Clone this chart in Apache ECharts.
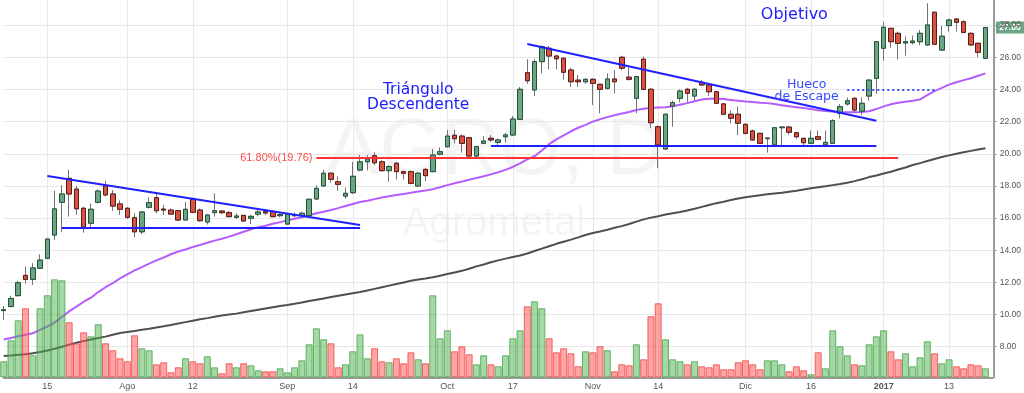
<!DOCTYPE html>
<html><head><meta charset="utf-8">
<script src="https://cdn.jsdelivr.net/npm/echarts@6/dist/echarts.min.js"></script>
<style>html,body{margin:0;padding:0;background:#fff}#c{width:1024px;height:393px}</style>
</head><body><div id="c"></div><script>
// ---------- data ----------
const dates = ['2016-07-06','2016-07-07','2016-07-11','2016-07-12','2016-07-13','2016-07-14','2016-07-15','2016-07-18','2016-07-19','2016-07-20',
'2016-07-21','2016-07-22','2016-07-25','2016-07-26','2016-07-27','2016-07-28','2016-07-29','2016-08-01','2016-08-02','2016-08-03',
'2016-08-04','2016-08-05','2016-08-08','2016-08-09','2016-08-10','2016-08-11','2016-08-12','2016-08-16','2016-08-17','2016-08-18',
'2016-08-19','2016-08-22','2016-08-23','2016-08-24','2016-08-25','2016-08-26','2016-08-29','2016-08-30','2016-08-31','2016-09-01',
'2016-09-02','2016-09-05','2016-09-06','2016-09-07','2016-09-08','2016-09-09','2016-09-12','2016-09-13','2016-09-14','2016-09-15',
'2016-09-16','2016-09-19','2016-09-20','2016-09-21','2016-09-22','2016-09-23','2016-09-26','2016-09-27','2016-09-28','2016-09-29',
'2016-09-30','2016-10-03','2016-10-04','2016-10-05','2016-10-06','2016-10-07','2016-10-11','2016-10-12','2016-10-13','2016-10-14',
'2016-10-17','2016-10-18','2016-10-19','2016-10-20','2016-10-21','2016-10-24','2016-10-25','2016-10-26','2016-10-27','2016-10-28',
'2016-10-31','2016-11-01','2016-11-02','2016-11-03','2016-11-04','2016-11-07','2016-11-08','2016-11-09','2016-11-10','2016-11-11',
'2016-11-14','2016-11-15','2016-11-16','2016-11-17','2016-11-18','2016-11-21','2016-11-22','2016-11-23','2016-11-24','2016-11-25',
'2016-11-29','2016-11-30','2016-12-01','2016-12-02','2016-12-05','2016-12-06','2016-12-07','2016-12-12','2016-12-13','2016-12-14',
'2016-12-15','2016-12-16','2016-12-19','2016-12-20','2016-12-21','2016-12-22','2016-12-23','2016-12-26','2016-12-27','2016-12-28',
'2016-12-29','2017-01-02','2017-01-03','2017-01-04','2017-01-05','2017-01-06','2017-01-09','2017-01-10','2017-01-11','2017-01-12',
'2017-01-13','2017-01-16','2017-01-17','2017-01-18','2017-01-19','2017-01-20'];

const opens = [10.25,10.50,11.18,12.44,12.19,12.88,13.50,14.95,16.98,18.47,
17.80,16.61,15.68,16.98,18.00,17.50,16.88,16.61,16.03,15.15,
16.67,17.27,16.56,16.50,16.46,15.88,17.17,16.50,15.76,16.34,
16.44,16.34,16.05,16.17,15.99,16.25,16.42,16.40,16.15,15.63,
16.15,16.15,16.15,17.19,18.00,18.79,18.26,17.37,17.58,18.99,
19.50,19.88,19.50,18.95,19.41,18.89,18.89,18.00,19.03,18.89,
19.97,20.44,21.15,21.10,21.00,19.86,20.65,20.96,20.71,21.06,
21.17,22.14,25.04,23.97,25.73,26.56,26.08,25.94,25.21,24.58,
24.48,24.63,24.32,24.07,24.65,26.00,24.76,23.45,25.88,24.01,
21.68,20.30,22.97,23.45,24.01,23.59,24.44,24.28,23.86,23.10,
22.46,22.46,21.83,21.42,21.27,20.94,20.55,21.62,21.66,21.31,
20.96,20.65,21.06,20.55,20.65,22.52,23.10,23.45,22.65,23.59,
24.69,26.56,27.80,27.49,26.89,26.91,26.97,26.77,28.80,26.45,
27.97,28.38,28.21,27.49,26.87,25.94];
const closes = [10.30,11.00,11.98,12.19,12.90,13.39,14.70,16.57,17.50,17.50,
16.58,15.43,16.55,17.68,17.44,16.75,16.55,16.05,15.15,16.38,
16.96,16.46,16.50,16.25,15.88,16.55,16.36,15.84,16.19,16.46,
16.34,16.09,16.13,15.82,16.11,16.38,16.32,16.09,16.22,16.25,
16.20,16.30,17.17,17.85,18.79,18.41,18.10,17.54,18.60,19.50,
19.68,19.44,18.95,19.20,18.89,18.79,18.16,18.79,18.64,19.92,
20.13,21.10,20.94,20.65,19.86,20.44,20.79,20.86,20.86,21.17,
22.16,24.01,24.54,25.73,26.66,26.08,25.91,25.07,24.48,24.48,
24.63,24.38,24.01,24.65,24.48,25.32,24.63,24.80,24.01,21.93,
20.55,22.46,23.18,23.90,23.76,24.01,24.28,23.86,23.14,22.46,
22.21,21.90,21.27,20.86,20.65,20.98,21.62,21.66,21.34,21.06,
20.69,20.96,20.90,20.71,22.06,22.93,23.30,22.72,23.14,24.58,
26.97,27.87,26.97,26.87,26.97,27.01,27.49,28.01,26.81,27.31,
28.32,28.18,27.55,26.77,26.31,27.85];
const lows = [9.66,10.45,11.10,11.94,11.84,12.85,13.45,14.64,15.15,16.09,
16.20,15.09,15.43,16.90,17.35,16.45,16.20,15.95,14.80,15.00,
16.60,16.30,16.20,16.20,15.84,15.85,16.30,15.78,15.60,16.10,
16.25,16.05,15.95,15.78,15.63,16.10,16.20,16.05,16.05,15.60,
16.05,16.10,16.10,17.15,17.95,18.20,17.70,17.20,17.50,18.90,
18.97,19.30,18.90,18.26,18.40,18.40,18.10,17.95,18.30,18.85,
19.90,20.40,20.65,20.07,19.80,19.80,20.60,20.75,20.50,20.70,
21.10,22.10,24.35,23.59,25.00,25.25,25.25,24.60,24.15,24.15,
24.35,23.03,22.52,24.00,23.75,25.20,24.55,22.52,23.95,21.58,
19.10,20.25,21.68,23.20,23.20,23.30,24.20,23.60,23.10,22.40,
21.90,21.17,21.20,20.80,20.60,20.07,20.50,20.55,21.20,20.95,
20.45,20.60,20.85,20.50,20.60,22.20,23.00,22.55,22.40,23.30,
23.72,25.79,26.60,25.88,26.10,26.80,26.75,26.70,26.75,26.40,
27.60,27.60,27.50,26.70,26.00,25.90];
const highs = [10.53,11.18,12.09,13.00,13.20,13.75,14.75,17.70,18.05,19.00,
18.00,16.70,16.90,17.80,18.31,17.75,17.10,16.70,16.30,16.45,
17.29,17.54,16.82,16.60,16.50,17.00,17.27,16.60,16.25,17.54,
16.50,16.45,16.30,16.20,16.20,16.50,16.55,16.50,16.30,16.30,
16.35,16.40,17.20,18.05,18.99,18.85,18.60,17.90,19.50,19.92,
19.92,20.10,19.60,19.30,19.50,18.95,18.95,18.85,19.10,20.30,
20.40,21.48,21.48,21.20,21.05,20.50,21.10,21.15,20.95,21.30,
22.35,24.15,25.88,25.88,26.75,26.70,26.15,26.00,25.35,24.90,
24.70,24.70,24.35,25.00,25.20,26.10,25.35,24.85,26.05,24.10,
21.75,22.50,23.30,24.00,24.10,24.10,24.60,24.35,23.90,23.15,
22.70,22.95,21.90,21.50,21.30,21.00,21.65,21.70,21.75,21.35,
21.00,21.45,21.45,21.45,22.15,23.10,23.50,23.50,23.50,24.65,
27.00,28.21,27.85,27.60,27.30,27.35,27.70,29.36,28.85,27.95,
28.40,28.45,28.30,27.55,26.90,27.90];
// volume (relative units)
const volumes = [16,37,57,69,22,69,82,98,97,55,
34,45,41,53,34,27,19,16,42,29,
27,13,15,5,10,19,16,14,21,10,
4,14,10,14,12,7,6,6,9,5,
10,17,33,49,38,34,10,13,26,43,
19,29,16,15,19,14,25,18,14,82,
39,47,26,31,23,13,22,13,11,22,
39,47,71,76,69,39,25,29,24,11,
26,25,31,27,6,13,12,33,18,61,
74,38,18,16,13,16,11,10,13,8,
8,15,17,13,8,17,17,13,6,11,
7,3,25,9,47,31,22,13,12,33,
41,47,26,18,24,11,20,36,24,14,
18,11,9,13,12,9];
const maFast = [8.45,8.55,8.65,8.75,8.84,9.05,9.25,9.5,9.85,10.2,
10.5,10.8,11.05,11.4,11.7,11.95,12.25,12.5,12.75,12.95,
13.17,13.37,13.55,13.75,13.92,14.05,14.2,14.33,14.47,14.6,
14.72,14.85,15.0,15.15,15.3,15.43,15.53,15.65,15.75,15.85,
15.96,16.05,16.18,16.3,16.4,16.5,16.62,16.75,16.88,17.0,
17.08,17.18,17.28,17.36,17.44,17.5,17.58,17.65,17.72,17.8,
17.92,18.05,18.17,18.27,18.38,18.5,18.6,18.72,18.85,19.0,
19.18,19.4,19.65,19.85,20.2,20.6,20.9,21.15,21.4,21.62,
21.8,22.0,22.15,22.28,22.4,22.5,22.6,22.72,22.8,22.85,
22.88,22.9,22.95,23.05,23.15,23.27,23.37,23.42,23.42,23.4,
23.35,23.3,23.25,23.22,23.18,23.15,23.1,23.02,22.95,22.9,
22.84,22.78,22.7,22.66,22.63,22.6,22.58,22.58,22.6,22.65,
22.78,22.95,23.08,23.17,23.24,23.3,23.38,23.65,23.9,24.1,
24.3,24.45,24.58,24.7,24.85,25.0];
const maSlow = [7.43,7.46,7.5,7.54,7.59,7.67,7.77,7.88,8.0,8.13,
8.25,8.35,8.45,8.54,8.63,8.75,8.85,8.92,8.98,9.05,
9.12,9.2,9.27,9.35,9.44,9.53,9.62,9.71,9.78,9.86,
9.94,10.0,10.06,10.14,10.22,10.3,10.38,10.46,10.54,10.6,
10.67,10.75,10.84,10.92,11.0,11.09,11.17,11.25,11.33,11.41,
11.5,11.6,11.7,11.8,11.9,12.0,12.1,12.18,12.24,12.32,
12.42,12.52,12.62,12.72,12.85,13.0,13.12,13.25,13.37,13.48,
13.58,13.67,13.8,13.95,14.1,14.25,14.4,14.53,14.66,14.8,
14.95,15.07,15.17,15.28,15.4,15.5,15.63,15.78,15.92,16.03,
16.12,16.22,16.3,16.38,16.47,16.58,16.7,16.82,16.93,17.02,
17.12,17.22,17.3,17.36,17.42,17.48,17.53,17.58,17.64,17.7,
17.78,17.85,17.92,17.98,18.05,18.12,18.2,18.3,18.42,18.55,
18.65,18.77,18.88,19.02,19.15,19.3,19.42,19.55,19.68,19.8,
19.9,20.0,20.1,20.18,20.26,20.34];
const tickDates = ['2016-07-15','2016-08-01','2016-08-12','2016-09-01','2016-09-14','2016-10-03','2016-10-17','2016-11-01','2016-11-14','2016-12-01','2016-12-16','2017-01-02','2017-01-13'];
const tickLabels = ['15','Ago','12','Sep','14','Oct','17','Nov','14','Dic','16','2017','13'];
// annotation lines: [date, price] pairs
const triangleTop = [['2016-07-15', 18.62], ['2016-09-15', 15.57]];
const triangleBase = [['2016-07-19', 15.38], ['2016-09-15', 15.38]];
const fibLevel = [['2016-09-07', 19.76], ['2017-01-04', 19.76]];
const supportBase = [['2016-10-12', 20.48], ['2016-12-29', 20.48]];
const resistance = [['2016-10-19', 26.83], ['2016-12-29', 22.06]];
const gapLevel = [['2016-12-23', 23.97], ['2017-01-11', 23.97]];
const targetLevel = [['2016-12-21', 28.63], [dates.length, 28.63]];
const notes = [
  {text: 'Triángulo\nDescendente', at: ['2016-09-27', 23.49]},
  {text: 'Hueco\nde Escape', at: ['2016-12-15', 23.93]},
  {text: 'Objetivo', at: ['2016-12-14', 28.63]}
];

// ---------- chart ----------
const chart = echarts.init(document.getElementById('c'), null, {renderer: 'canvas'});
const wickData = opens.map((o, i) => [o, closes[i], lows[i], highs[i]]);
const bodyData = opens.map((o, i) => [o, closes[i], Math.min(o, closes[i]), Math.max(o, closes[i])]);
const volData = volumes.map((v, i) => ({
  value: v,
  itemStyle: closes[i] >= opens[i]
    ? {color: 'rgba(76,175,80,0.5)', borderColor: 'rgba(60,160,60,0.75)', borderWidth: 1}
    : {color: 'rgba(255,82,82,0.52)', borderColor: 'rgba(240,70,70,0.8)', borderWidth: 1}
}));
const showTick = (idx, val) => tickDates.indexOf(val) >= 0;
const blue = '#1f1fff';
function ml(pts, style, label) {
  const a = {coord: pts[0], lineStyle: style};
  if (label) a.label = label;
  return [a, {coord: pts[1]}];
}
const watermark = [
  {id: 'wm1', type: 'text', x: 495, y: 152, silent: true, z: 0,
   style: {text: 'AGRO, D', fontSize: 80, fontFamily: 'Liberation Sans, Arial', fill: 'rgba(0,0,0,0.045)', align: 'center', verticalAlign: 'middle'}},
  {id: 'wm2', type: 'text', x: 494, y: 224, silent: true, z: 0,
   style: {text: 'Agrometal', fontSize: 40, fontFamily: 'Liberation Sans, Arial', fill: 'rgba(0,0,0,0.045)', align: 'center', verticalAlign: 'middle'}}
];

const option = {
  animation: false,
  backgroundColor: '#ffffff',
  textStyle: {fontFamily: 'Liberation Sans, Arial, sans-serif'},
  grid: {left: 3.7, right: 29.95, top: 0, bottom: 15.7},
  xAxis: {
    type: 'category', data: dates, boundaryGap: false, max: dates.length,
    axisLine: {lineStyle: {color: '#9a9a9a', width: 2}},
    axisTick: {show: false},
    axisLabel: {
      interval: showTick, color: '#555', fontSize: 9, margin: 5,
      formatter: v => { const k = tickDates.indexOf(v); if (k < 0) return ''; const t = tickLabels[k]; return /^\d{4}$/.test(t) ? '{b|' + t + '}' : t; },
      rich: {b: {fontWeight: 'bold', fontSize: 9, color: '#555'}}
    },
    splitLine: {show: true, interval: showTick, lineStyle: {color: '#e8e8e8', width: 1}}
  },
  yAxis: [{
    type: 'value', position: 'right', min: 6.1, max: 29.563, splitNumber: 12, offset: 1,
    axisLine: {show: true, lineStyle: {color: '#9a9a9a', width: 2}},
    axisTick: {show: true, length: 3, lineStyle: {color: '#9a9a9a'}},
    axisLabel: {color: '#555', fontSize: 8.5, margin: 6, showMinLabel: false, showMaxLabel: false, formatter: v => v.toFixed(2)},
    splitLine: {show: true, showMinLine: false, showMaxLine: false, lineStyle: {color: '#e8e8e8', width: 1}}
  }, {
    type: 'value', min: 0, max: 377.3, show: false
  }],
  graphic: watermark,
  series: [
    {name: 'MA lenta', type: 'line', data: maSlow, symbol: 'none', z: 1,
     lineStyle: {color: '#4f4f4f', width: 2}},
    {name: 'MA rápida', type: 'line', data: maFast, symbol: 'none', z: 1,
     lineStyle: {color: '#b65cff', width: 2}},
    {name: 'Volumen', type: 'bar', yAxisIndex: 1, data: volData, barWidth: 7, clip: false, z: 2},
    {name: 'Mechas', type: 'candlestick', data: wickData, barWidth: 5, clip: false, z: 3,
     itemStyle: {color: 'transparent', color0: 'transparent', borderColor: '#737375', borderColor0: '#737375', borderWidth: 1}},
    {name: 'AGRO', type: 'candlestick', data: bodyData, barWidth: 5, clip: false, z: 4,
     itemStyle: {color: '#6ba583', color0: '#d75442', borderColor: '#225437', borderColor0: '#5b1a13', borderWidth: 1}},
    {name: 'anotaciones', type: 'line', data: [], z: 5, symbol: 'none',
     markLine: {
       silent: true, symbol: ['none', 'none'], animation: false,
       label: {show: false},
       data: [
         ml(triangleTop, {color: blue, width: 2, type: 'solid'}),
         ml(triangleBase, {color: blue, width: 2, type: 'solid'}),
         ml(supportBase, {color: blue, width: 2, type: 'solid'}),
         ml(resistance, {color: blue, width: 2, type: 'solid'}),
         ml(gapLevel, {color: '#3a4cff', width: 2, type: [2, 3]}),
         ml(targetLevel, {color: '#2a2aff', width: 1.5, type: [6, 4]}),
         ml(fibLevel, {color: '#ff3333', width: 2, type: 'solid'},
            {show: true, position: 'start', distance: 4, formatter: '61.80%(19.76)', color: '#ff4d4d', fontSize: 11, fontFamily: 'Liberation Sans, Arial'})
       ]
     },
     markPoint: {
       silent: true, symbol: 'circle', symbolSize: 1, itemStyle: {color: 'rgba(0,0,0,0)'}, animation: false,
       data: [
         {coord: notes[0].at, label: {show: true, position: 'inside', formatter: notes[0].text, color: '#2020ff', fontSize: 15.5, lineHeight: 15.6, fontFamily: 'DejaVu Sans'}},
         {coord: notes[1].at, label: {show: true, position: 'inside', offset: [3, 0], formatter: notes[1].text, color: '#3548ff', fontSize: 12.5, lineHeight: 12, fontFamily: 'DejaVu Sans'}},
         {coord: notes[2].at, label: {show: true, position: 'inside', offset: [-2, 0], formatter: notes[2].text, color: '#2020ff', fontSize: 16, fontFamily: 'DejaVu Sans'}}
       ]
     }}
  ]
};
chart.setOption(option);

// last-price tag on the price axis (drawn on its own layer, above the axis labels)
const lastClose = closes[closes.length - 1];
const yTag = chart.convertToPixel({yAxisIndex: 0}, lastClose);
chart.setOption({graphic: watermark.concat([
  {id: 'tag', type: 'group', x: 996, y: yTag, zlevel: 1, z: 100, children: [
    {type: 'rect', shape: {x: 0, y: -6, width: 28, height: 12}, style: {fill: '#6ba583'}},
    {type: 'text', x: 14, y: 0, style: {text: lastClose.toFixed(2), fill: '#ffffff', fontSize: 8.5, fontWeight: 'bold', fontFamily: 'Liberation Sans, Arial', align: 'center', verticalAlign: 'middle'}}
  ]}
])});
</script></body></html>
